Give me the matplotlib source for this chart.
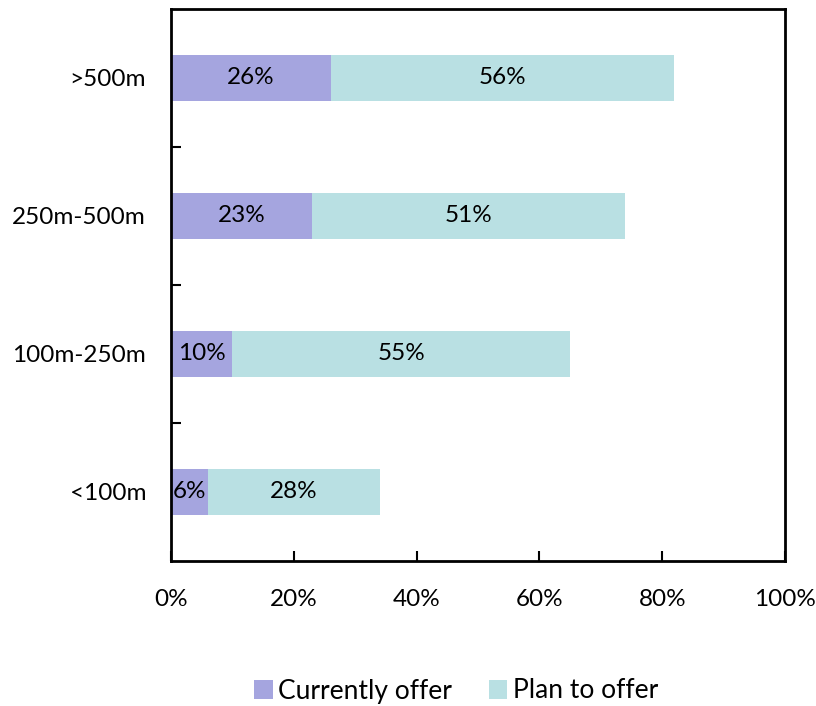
import matplotlib
matplotlib.use("Agg")
from matplotlib import pyplot as plt
import numpy as np

plt.rcParams['font.family'] = ['Lato', 'DejaVu Sans']

categories = ['<100m', '100m-250m', '250m-500m', '>500m']
currently_offer = [6, 10, 23, 26]
plan_to_offer = [28, 55, 51, 56]
x_ticks = [0, 20, 40, 60, 80, 100]

fig = plt.figure(figsize=(8.16, 7.06), dpi=100)
ax = fig.add_axes([171 / 816, 1 - 561 / 706, (785 - 171) / 816, (561 - 9) / 706])

y = np.arange(len(categories))
h = 0.33
b1 = ax.barh(y, currently_offer, height=h, color='#A5A5DF', label='Currently offer')
b2 = ax.barh(y, plan_to_offer, left=currently_offer, height=h, color='#B9E0E3',
             label='Plan to offer')

for rect, v in zip(b1, currently_offer):
    ax.text(rect.get_x() + rect.get_width() / 2, rect.get_y() + h / 2, f'{v}%',
            ha='center', va='center', fontsize=17.5)
for rect, v in zip(b2, plan_to_offer):
    ax.text(rect.get_x() + rect.get_width() / 2, rect.get_y() + h / 2, f'{v}%',
            ha='center', va='center', fontsize=17.5)

ax.set_xlim(0, 100)
ax.set_ylim(-0.5, 3.5)
ax.set_xticks(x_ticks)
ax.set_xticklabels([f'{t}%' for t in x_ticks], fontsize=17.5)
ax.set_yticks(y)
ax.set_yticklabels(categories, fontsize=17.5)
ax.tick_params(axis='y', length=0, pad=18)
ax.tick_params(axis='x', direction='in', length=7, width=1.5, pad=20)
ax.set_yticks(np.arange(0.5, 3.5, 1), minor=True)
ax.tick_params(axis='y', which='minor', direction='in', length=7, width=1.5)
for s in ax.spines.values():
    s.set_linewidth(2)

fig.legend(handles=[b1, b2], loc='center', bbox_to_anchor=(456 / 816, 1 - 691 / 706),
           ncol=2, frameon=False, fontsize=19, handlelength=0.7, handleheight=0.7,
           handletextpad=0.2, columnspacing=1.4)

fig.savefig('out.png', dpi=100)
